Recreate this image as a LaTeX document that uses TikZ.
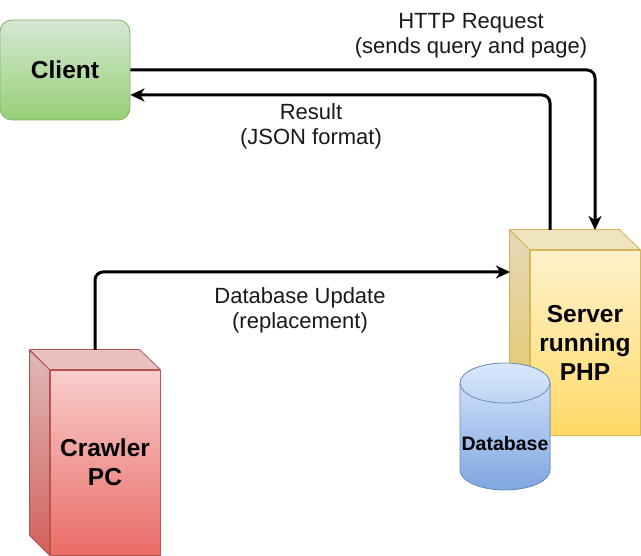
\documentclass[tikz,border=0pt]{standalone}
\usepackage{fontspec}
\setmainfont{Liberation Sans}
\usetikzlibrary{arrows.meta}
\definecolor{clientA}{HTML}{D5E8D4}
\definecolor{clientB}{HTML}{97D077}
\definecolor{clientL}{HTML}{82B366}
\definecolor{serverA}{HTML}{FFF2CC}
\definecolor{serverB}{HTML}{FFD966}
\definecolor{serverL}{HTML}{D6B656}
\definecolor{crawlerA}{HTML}{F8CECC}
\definecolor{crawlerB}{HTML}{EA6B66}
\definecolor{crawlerL}{HTML}{B85450}
\definecolor{dbA}{HTML}{DAE8FC}
\definecolor{dbB}{HTML}{7EA6E0}
\definecolor{dbL}{HTML}{6C8EBF}

\begin{document}
\begin{tikzpicture}[x=1pt,y=-1pt,line join=round,
    bigtext/.style={font=\fontsize{24.5}{29}\selectfont\bfseries,align=center},
    lbl/.style={font=\fontsize{22}{25}\selectfont,align=center,text=black!90},
    face/.style={draw=#1L,top color=#1A,bottom color=#1B,line width=0.8pt,
      minimum width=110pt,minimum height=185pt,inner sep=0pt,bigtext},
    link/.style={line width=3pt,rounded corners=8pt,-{Stealth[length=14pt,width=13pt,inset=4pt]}}]
    \useasboundingbox (0,0) rectangle (641,556);
    \node[draw=clientL,top color=clientA,bottom color=clientB,line width=0.8pt,
      rounded corners=12pt,minimum width=130pt,minimum height=100pt,bigtext]
      (client) at (65,70) {Client};
    \node[face=server] (server) at (585,342.5) {Server\\running\\PHP};
    \filldraw[draw=serverL,top color=serverA!90!black,bottom color=serverB!90!black,line width=0.8pt]
    (server.north west) -- (server.south west) -- ++(-20,-20) -- ++(0,-185) -- cycle;
    \filldraw[draw=serverL,fill=serverA!94!black,line width=0.8pt]
    (server.north west) -- ++(-20,-20) -- ++(110,0) -- (server.north east) -- cycle;
    \node[face=crawler] (crawler) at (105,462.5) {Crawler\\PC};
    \filldraw[draw=crawlerL,top color=crawlerA!90!black,bottom color=crawlerB!90!black,line width=0.8pt]
    (crawler.north west) -- (crawler.south west) -- ++(-20,-20) -- ++(0,-185) -- cycle;
    \filldraw[draw=crawlerL,fill=crawlerA!94!black,line width=0.8pt]
    (crawler.north west) -- ++(-20,-20) -- ++(110,0) -- (crawler.north east) -- cycle;
    \filldraw[draw=dbL,top color=dbA,bottom color=dbB,line width=0.8pt]
    (460,383) -- (460,470) arc (180:0:45 and 20) -- (550,383) arc (0:-180:45 and 20) -- cycle;
    \draw[dbL,line width=0.8pt] (460,383) arc (180:0:45 and 20);
    \node[font=\fontsize{19.5}{22}\selectfont\bfseries] (db) at (505,444) {Database};
    \coordinate (httpin) at (595,230);
    \coordinate (resout) at (550,230);
    \coordinate (crawlout) at (95,350);
    \coordinate (serverin) at (510,272);
    \draw[link] (client.east) -- (httpin |- client.east) -- (httpin);
    \draw[link] (resout) -- (550,95) -- (client.east |- 0,95);
    \draw[link] (crawlout) -- (crawlout |- serverin) -- (serverin);
    \node[lbl] (httplbl) at (471,36) {HTTP Request\\(sends query and page)};
    \node[lbl] (reslbl) at (311,126) {Result\\(JSON format)};
    \node[lbl] (updlbl) at (300,310) {Database Update\\(replacement)};
\end{tikzpicture}
\end{document}
